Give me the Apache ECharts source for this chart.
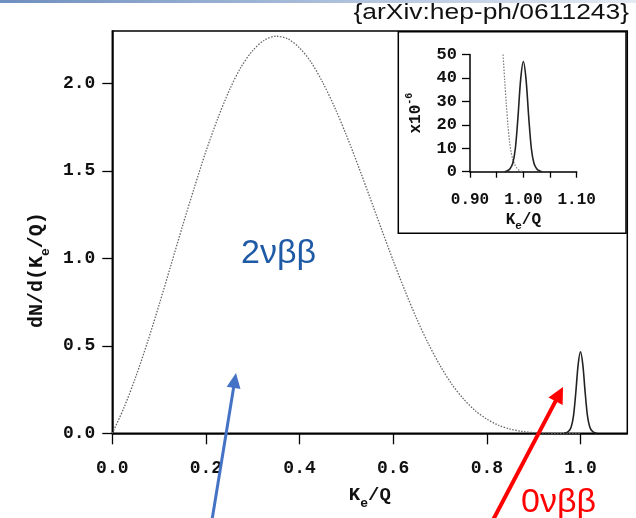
<!DOCTYPE html>
<html>
<head>
<meta charset="utf-8">
<script src="https://cdn.jsdelivr.net/npm/echarts@6/dist/echarts.min.js"></script>
<style>html,body{margin:0;padding:0;background:#fff;}#c{width:636px;height:518px;}</style>
</head>
<body>
<div id="c"></div>
<script>
// ---- data ----
const x2nu = [0,0.025,0.05,0.075,0.1,0.125,0.15,0.175,0.2,0.225,0.25,0.275,0.3,0.325,0.35,0.375,0.4,0.425,0.45,0.475,0.5,0.525,0.55,0.575,0.6,0.625,0.65,0.675,0.7,0.725,0.75,0.775,0.8,0.825,0.85,0.875,0.9,0.925,0.95,0.975,1.0];
const y2nu = [0,0.147,0.322,0.520,0.735,0.959,1.185,1.403,1.612,1.798,1.961,2.094,2.188,2.248,2.270,2.255,2.203,2.120,2.003,1.863,1.704,1.531,1.350,1.167,0.987,0.816,0.656,0.513,0.388,0.281,0.197,0.130,0.081,0.046,0.024,0.011,0.004,0.001,0,0,0];
const x0nu = [0.965,0.97,0.975,0.98,0.985,0.99,0.995,1.0,1.005,1.01,1.015,1.02,1.025,1.03,1.035];
const y0nu = [0,0.004,0.013,0.035,0.098,0.233,0.392,0.466,0.392,0.233,0.098,0.035,0.013,0.004,0];
// inset (units of 1e-6)
const xIn0nu = [0.965,0.97,0.975,0.98,0.985,0.99,0.995,1.0,1.005,1.01,1.015,1.02,1.025,1.03,1.035];
const yIn0nu = [0,0.4,1.3,3.5,9.9,23.5,39.5,47,39.5,23.5,9.9,3.5,1.3,0.4,0];
const xIn2nu = [0.962,0.965,0.968,0.971,0.974,0.977,0.98,0.984,0.988,0.992,0.996,1.0];
const yIn2nu = [50,39,29,20,13,8.5,5.5,3,1.5,0.6,0.2,0];
// ticks
const mainXTicks = [0,0.2,0.4,0.6,0.8,1.0];
const mainYTicks = [0,0.5,1.0,1.5,2.0];
const insetXTicks = [0.9,0.95,1.0,1.05,1.1];
const insetXLabels = [0.9,1.0,1.1];

const zip = (a,b)=>a.map((v,i)=>[v,b[i]]);
const MONO = '"Liberation Mono", "DejaVu Sans Mono", monospace';

const chart = echarts.init(document.getElementById('c'), null, {renderer:'canvas'});

function arrow(tail, tip, color, w, len, half){
  const dx = tip[0]-tail[0], dy = tip[1]-tail[1];
  const L = Math.hypot(dx,dy), ux = dx/L, uy = dy/L;
  const bx = tip[0]-ux*len, by = tip[1]-uy*len;
  return [
    {type:'line', z:20, shape:{x1:tail[0],y1:tail[1],x2:bx+ux*2,y2:by+uy*2}, style:{stroke:color,lineWidth:w}},
    {type:'polygon', z:20, shape:{points:[[tip[0],tip[1]],[bx-uy*half,by+ux*half],[bx+uy*half,by-ux*half]]}, style:{fill:color}}
  ];
}

const axisLbl = {fontFamily:MONO, fontWeight:'bold', color:'#111'};
// subscript: main token top-aligned, subscript token bottom-aligned in a taller line
const richSub = (big, small, lh, L)=>({
  a:{fontFamily:MONO,fontWeight:'bold',fontSize:big,color:'#111',lineHeight:lh,verticalAlign:'top'},
  s:{fontFamily:MONO,fontWeight:'bold',fontSize:small,color:'#111',lineHeight:L,verticalAlign:'bottom'}
});

chart.setOption({
  animation:false,
  grid:[
    {left:112.3, top:31, right:8.7, bottom:84.7, show:true, borderColor:'#000', borderWidth:1.5, backgroundColor:'transparent'},
    {left:470, top:54.5, width:106.7, height:117.2, z:10}
  ],
  xAxis:[
    {type:'value', gridIndex:0, min:0, max:1.1,
     axisLine:{show:true, onZero:false, lineStyle:{color:'#000', width:1.5}},
     axisTick:{show:true, length:11, customValues:mainXTicks, lineStyle:{color:'#000', width:1.3}},
     axisLabel:{customValues:mainXTicks, fontSize:18, margin:26, formatter:v=>v.toFixed(1), ...axisLbl},
     splitLine:{show:false},
     name:'{a|K}{s|e}{a|/Q}', nameLocation:'middle', nameGap:52,
     nameTextStyle:{rich:richSub(19,13,19,25), verticalAlign:'top'}
    },
    {type:'value', gridIndex:1, min:0.9, max:1.1, z:10,
     axisLine:{show:true, onZero:false, lineStyle:{color:'#000', width:1.5}},
     axisTick:{show:true, length:6, customValues:insetXTicks, lineStyle:{color:'#000', width:1.3}},
     axisLabel:{customValues:insetXLabels, fontSize:16, margin:20, formatter:v=>v.toFixed(2), ...axisLbl},
     splitLine:{show:false},
     name:'{a|K}{s|e}{a|/Q}', nameLocation:'middle', nameGap:40,
     nameTextStyle:{rich:richSub(16,11,16,20), verticalAlign:'top'}
    }
  ],
  yAxis:[
    {type:'value', gridIndex:0, min:0, max:2.3,
     axisLine:{show:true, onZero:false, lineStyle:{color:'#000', width:1.5}},
     axisTick:{show:true, length:10, customValues:mainYTicks, lineStyle:{color:'#000', width:1.3}},
     axisLabel:{customValues:mainYTicks, fontSize:18, margin:17, formatter:v=>v.toFixed(1), ...axisLbl},
     splitLine:{show:false},
     name:'{a|dN/d(K}{s|e}{a|/Q)}', nameLocation:'middle', nameGap:58, nameRotate:90,
     nameTextStyle:{rich:richSub(20,13,20,25), padding:[0,76,0,0]}
    },
    {type:'value', gridIndex:1, min:0, max:50, interval:10, z:10,
     axisLine:{show:true, onZero:false, lineStyle:{color:'#000', width:1.5}},
     axisTick:{show:true, length:8, lineStyle:{color:'#000', width:1.3}},
     axisLabel:{fontSize:17, margin:13, ...axisLbl},
     splitLine:{show:false},
     name:'{a|x10}{s|-6}', nameLocation:'middle', nameGap:46, nameRotate:90,
     nameTextStyle:{rich:{a:{fontFamily:MONO,fontWeight:'bold',fontSize:16,color:'#111',lineHeight:20,verticalAlign:'bottom'},
                          s:{fontFamily:MONO,fontWeight:'bold',fontSize:10,color:'#111',lineHeight:10,verticalAlign:'top'}}}
    }
  ],
  series:[
    {type:'line', xAxisIndex:0, yAxisIndex:0, data:zip(x2nu,y2nu), smooth:0.3, showSymbol:false,
     lineStyle:{color:'#666', width:1.3, type:[1.5,1.5]}},
    {type:'line', xAxisIndex:0, yAxisIndex:0, data:zip(x0nu,y0nu), smooth:0.3, showSymbol:false,
     lineStyle:{color:'#222', width:1.6}},
    {type:'line', xAxisIndex:1, yAxisIndex:1, z:12, data:zip(xIn2nu,yIn2nu), smooth:0.3, showSymbol:false,
     lineStyle:{color:'#777', width:1.2, type:[1.5,1.5]}},
    {type:'line', xAxisIndex:1, yAxisIndex:1, z:12, data:zip(xIn0nu,yIn0nu), smooth:0.3, showSymbol:false,
     lineStyle:{color:'#222', width:1.6}}
  ],
  graphic:[
    {type:'rect', z:1, shape:{x:0,y:0,width:636,height:3},
     style:{fill:new echarts.graphic.LinearGradient(0,0,1,0,[{offset:0,color:'#6f8fbf'},{offset:1,color:'#e4ebf4'}])}},
    {type:'text', z:20, x:629, y:13, scaleX:1.2,
     style:{text:'{arXiv:hep-ph/0611243}', font:'22px "Liberation Sans", Arial, sans-serif', fill:'#111', textAlign:'right', textVerticalAlign:'middle'}},
    {type:'rect', z:5, shape:{x:398.3,y:31.7,width:227.7,height:201.6},
     style:{fill:'#fff', stroke:'#000', lineWidth:1.5}},
    {type:'text', z:20, x:241, y:254,
     style:{text:'2νββ', font:'34px "Liberation Sans", Arial, sans-serif', fill:'#1f5aa6', textVerticalAlign:'middle'}},
    {type:'text', z:20, x:521, y:503,
     style:{text:'0νββ', font:'34px "Liberation Sans", Arial, sans-serif', fill:'#ff0000', textVerticalAlign:'middle'}},
    ...arrow([212,520],[236,373],'#4472c4',3,15,7),
    ...arrow([493,520],[563,387],'#ff0000',4,16,8)
  ]
});
</script>
</body>
</html>
